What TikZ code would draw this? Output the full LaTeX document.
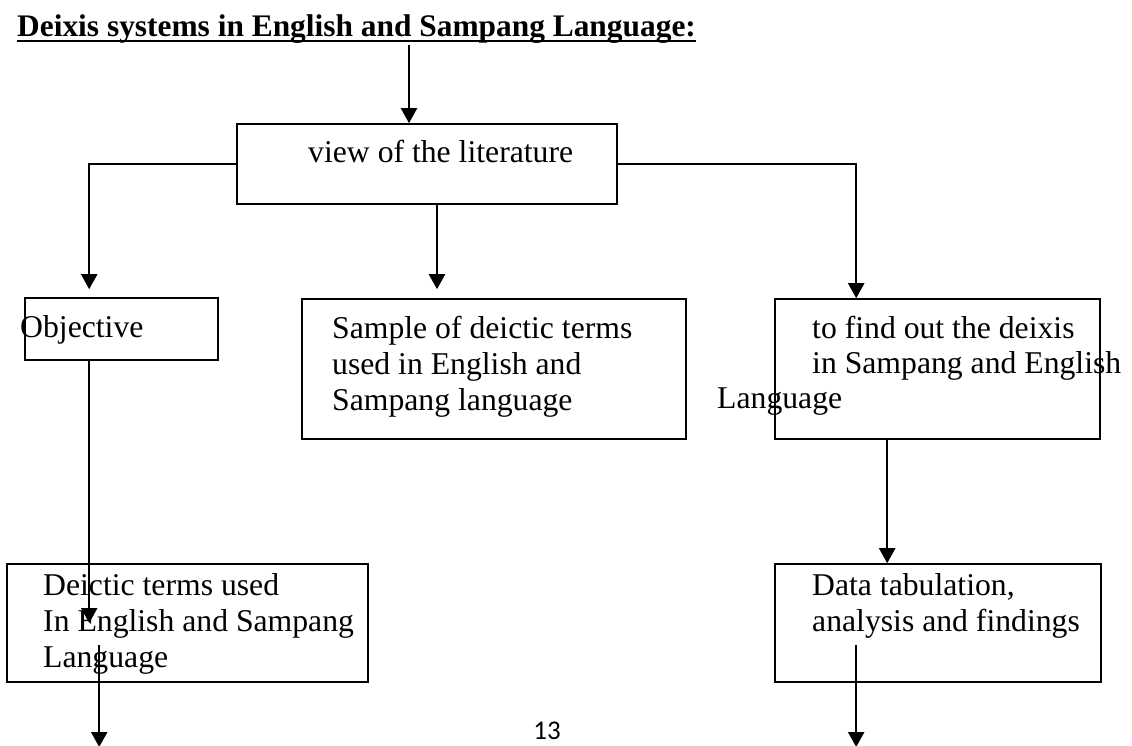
\documentclass[tikz,border=0pt]{standalone}
\usepackage{fontspec}
\setmainfont{Liberation Serif}
\newfontfamily\pagenofont{Carlito}
\usetikzlibrary{arrows.meta}

\begin{document}
\begin{tikzpicture}[x=1pt, y=-1pt,
    box/.style = {draw, line width=1.6pt, inner sep=0pt},
    txt/.style = {anchor=base west, inner sep=0pt, font=\fontsize{31.7}{36}\selectfont},
    arr/.style = {line width=2.2pt, -{Triangle[width=16pt, length=15pt]}}]
    \useasboundingbox (0,0) rectangle (1132,745);

    \node[txt, font=\fontsize{31.4}{36}\selectfont\bfseries] (title) at (17,36) {Deixis systems in English and Sampang Language:};
    \draw[line width=2.5pt] ([yshift=-5pt]title.base west) -- ([yshift=-5pt]title.base east);

    \node[box, minimum width=380pt, minimum height=80pt] (lit) at (427,164) {};
    \node[box, minimum width=193pt, minimum height=62pt] (obj) at (121.5,329) {};
    \node[box, minimum width=384pt, minimum height=140pt] (samp) at (494,369) {};
    \node[box, minimum width=325pt, minimum height=140pt] (find) at (937.5,369) {};
    \node[box, minimum width=361pt, minimum height=118pt] (deic) at (187.5,623) {};
    \node[box, minimum width=326pt, minimum height=118pt] (data) at (938,623) {};

    \node[txt] (litText) at (308,162) {view of the literature};
    \node[txt] (objText) at (20,337) {Objective};
    \node[txt] (samp1) at (332,338) {Sample of deictic terms};
    \node[txt] (samp2) at (332,374) {used in English and};
    \node[txt] (samp3) at (332,410) {Sampang language};
    \node[txt] (find1) at (812,338) {to find out the deixis};
    \node[txt] (find2) at (812,373) {in Sampang and English};
    \node[txt] (find3) at (717,408) {Language};
    \node[txt] (deic1) at (43,595) {Deictic terms used};
    \node[txt] (deic2) at (43,631) {In English and Sampang};
    \node[txt] (deic3) at (43,667) {Language};
    \node[txt] (data1) at (812,595) {Data tabulation,};
    \node[txt] (data2) at (812,631) {analysis and findings};

    \node[anchor=base, inner sep=0pt, font=\pagenofont\fontsize{27}{30}\selectfont] (pageno) at (547,739) {13};

    \coordinate (t0) at (409,45);
    \draw[arr] (t0) -- (t0 |- lit.north);
    \draw[arr, shorten >=8pt] (lit.west) -| ([xshift=65pt]obj.north west);
    \draw[arr, shorten >=9pt] ([xshift=10pt]lit.south) -- ([xshift=10pt]lit.south |- samp.north);
    \draw[arr] (lit.east) -| ([xshift=82pt]find.north west);
    \draw[arr] ([xshift=113pt]find.south west) -- ([xshift=113pt]find.south west |- data.north);
    \draw[arr] ([xshift=65pt]obj.south west) -- ([xshift=65pt]obj.south west |- deic.center);
    \draw[arr] ([xshift=93pt, yshift=-22pt]deic.west) -- ++(0,102);
    \draw[arr] ([xshift=82pt, yshift=-22pt]data.west) -- ++(0,102);
\end{tikzpicture}
\end{document}
